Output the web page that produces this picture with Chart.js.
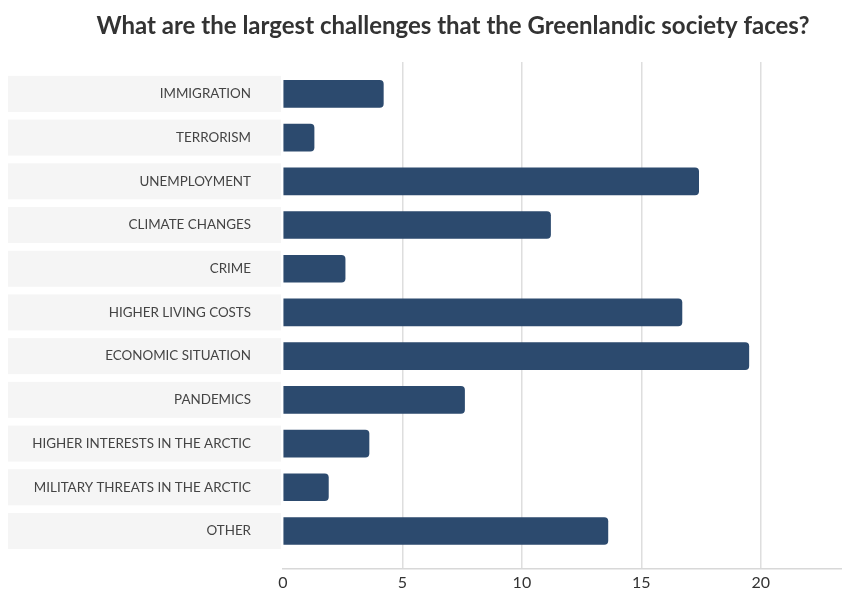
<!DOCTYPE html>
<html><head><meta charset="utf-8">
<script src="https://cdn.jsdelivr.net/npm/chart.js@4"></script>
<style>html,body{margin:0;padding:0;background:#fff}#wrap{width:842px;height:589px;position:relative}</style>
</head><body><div id="wrap"><canvas id="c"></canvas></div>
<script>
const TITLE = 'What are the largest challenges that the Greenlandic society faces?';
const categories = ['IMMIGRATION','TERRORISM','UNEMPLOYMENT','CLIMATE CHANGES','CRIME','HIGHER LIVING COSTS','ECONOMIC SITUATION','PANDEMICS','HIGHER INTERESTS IN THE ARCTIC','MILITARY THREATS IN THE ARCTIC','OTHER'];
const values = [4.2,1.3,17.4,11.2,2.6,16.7,19.5,7.6,3.6,1.9,13.6];
const xTicks = [0,5,10,15,20];

const bandPlugin = {
  id: 'bands',
  beforeDraw(chart) {
    const ctx = chart.ctx, y = chart.scales.y;
    ctx.save();
    ctx.fillStyle = '#f5f5f5';
    categories.forEach((c, i) => {
      const py = y.getPixelForValue(i);
      ctx.fillRect(8, py - 18, 273, 36);
    });
    ctx.restore();
  }
};
const titlePlugin = {
  id: 'ctitle',
  afterDraw(chart) {
    const ctx = chart.ctx;
    ctx.save();
    ctx.font = 'bold 24px Lato';
    ctx.fillStyle = '#333';
    ctx.textAlign = 'center';
    ctx.textBaseline = 'alphabetic';
    ctx.fillText(TITLE, 453, 34);
    ctx.restore();
  }
};

new Chart(document.getElementById('c'), {
  type: 'bar',
  data: {
    datasets: [{
      data: values.map((v, i) => ({x: v, y: i})),
      backgroundColor: '#2c4a6e',
      borderRadius: 4,
      barThickness: 27
    }]
  },
  options: {
    indexAxis: 'y',
    responsive: true,
    maintainAspectRatio: false,
    animation: false,
    layout: {padding: {top: 62, left: 0, right: 0, bottom: 0}},
    plugins: {legend: {display: false}, tooltip: {enabled: false}},
    scales: {
      y: {
        type: 'linear',
        reverse: true,
        offset: false,
        min: -0.73,
        max: 10.87,
        afterBuildTicks(s) { s.ticks = categories.map((c, i) => ({value: i})); },
        afterFit(s) { s.width = 283; s.paddingTop = 0; s.paddingBottom = 0; },
        grid: {display: false, drawTicks: false},
        border: {display: false},
        ticks: {
          padding: 32,
          autoSkip: false,
          color: '#444',
          font: {family: 'Lato', size: 13.4},
          callback: (v) => categories[v]
        }
      },
      x: {
        type: 'linear',
        min: 0,
        max: 23.4,
        afterBuildTicks(s) { s.ticks = xTicks.map(v => ({value: v})); },
        afterFit(s) { s.height = 20; },
        grid: {
          color: (c) => (c.tick && c.tick.value === 0) ? 'rgba(0,0,0,0)' : '#dedede',
          lineWidth: 1.5,
          drawTicks: false
        },
        border: {display: true, color: '#d8d8d8', width: 1.5},
        ticks: {
          padding: 4,
          color: '#333',
          font: {family: 'Lato', size: 16},
          maxRotation: 0
        }
      }
    }
  },
  plugins: [bandPlugin, titlePlugin]
});
</script></body></html>
